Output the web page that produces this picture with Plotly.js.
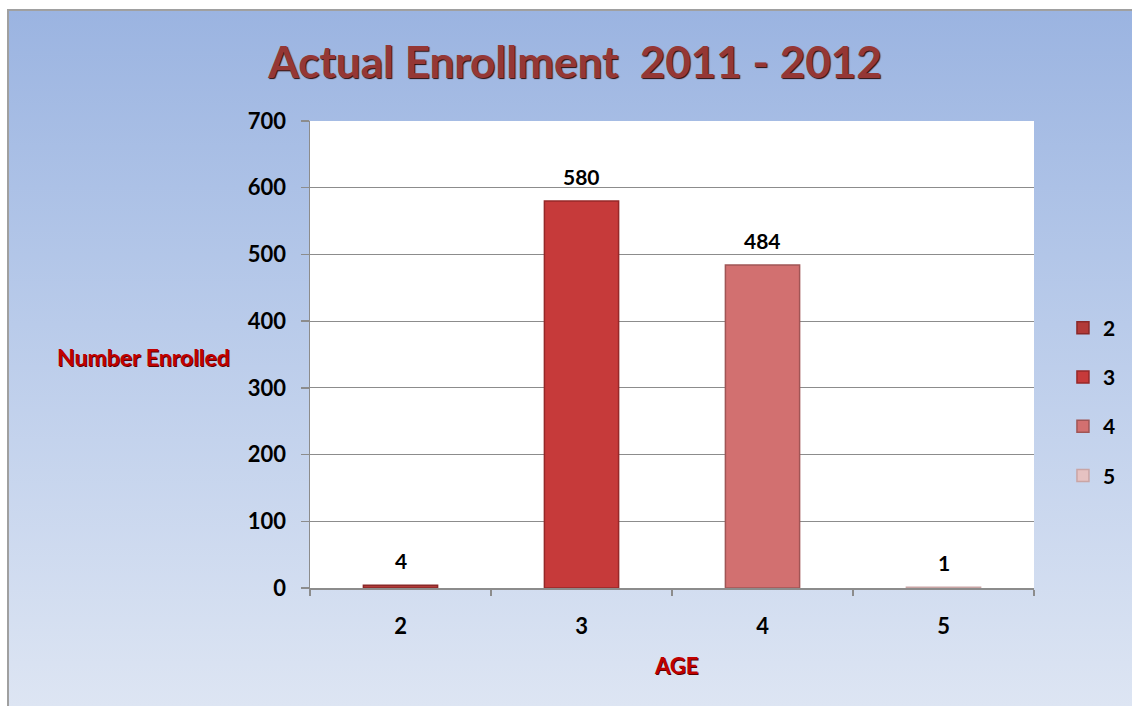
<!DOCTYPE html>
<html>
<head>
<meta charset="utf-8">
<script src="https://cdn.plot.ly/plotly-3.0.1.min.js"></script>
<style>
  html, body { margin:0; padding:0; background:#ffffff; }
  #wrap { position:absolute; left:0; top:0; width:1132px; height:706px; }
  #bg { position:absolute; left:7px; top:9px; width:1125px; height:697px;
        background: linear-gradient(to bottom, #9bb4e1 0%, #b9cbea 45%, #dde5f3 100%);
        border-left:2px solid #a0a0a0; border-top:2px solid #a0a0a0; box-sizing:border-box; }
  #chart { position:absolute; left:0; top:0; width:1132px; height:706px; }
</style>
</head>
<body>
<div id="wrap">
  <div id="bg"></div>
  <div id="chart"></div>
</div>
<script>
const ages = ['2', '3', '4', '5'];
const enrolled = [4, 580, 484, 1];
const barColors = ['#b23a38', '#c63a3a', '#d27070', '#e6c2c2'];
const edgeColors = ['#8a2828', '#962828', '#a05555', '#c9a5a5'];
const yTicks = [0, 100, 200, 300, 400, 500, 600, 700];

const FONT = 'Lato, "Open Sans", sans-serif';

const traces = ages.map((a, i) => ({
  type: 'bar',
  x: [a],
  y: [enrolled[i]],
  name: a,
  legendgroup: a,
  width: 0.41,
  marker: { color: barColors[i], line: { color: edgeColors[i], width: 1.5 } },
  hoverinfo: 'x+y'
}));

// category axis: annotation x is the category index
const valueLabels = ages.map((a, i) => ({
  x: ages.indexOf(a), y: enrolled[i], xref: 'x', yref: 'y',
  text: String(enrolled[i]),
  showarrow: false,
  yanchor: 'bottom',
  yshift: 10,
  font: { family: FONT, size: 21, color: '#000000', weight: 700 }
}));

const layout = {
  width: 1132,
  height: 706,
  margin: { l: 310, r: 98, t: 121, b: 118, autoexpand: false },
  paper_bgcolor: 'rgba(0,0,0,0)',
  plot_bgcolor: '#ffffff',
  barmode: 'overlay',
  showlegend: true,
  title: {
    text: 'Actual Enrollment  2011 - 2012',
    x: 0.508, xanchor: 'center',
    y: 0.912, yanchor: 'middle', yref: 'container',
    font: { family: FONT, size: 44, color: '#953735', weight: 700,
            shadow: '1px 1px 1px #2a0c0c' }
  },
  xaxis: {
    type: 'category',
    categoryorder: 'array',
    categoryarray: ages,
    tickson: 'boundaries',
    ticks: 'outside',
    ticklen: 6,
    tickcolor: '#8c8c8c',
    tickwidth: 1.5,
    showline: true,
    linecolor: '#8c8c8c',
    linewidth: 1.5,
    showgrid: false,
    ticklabelstandoff: 18,
    tickfont: { family: FONT, size: 22, color: '#000000', weight: 700 },
    range: [-0.5, 3.5],
    fixedrange: true
  },
  yaxis: {
    range: [0, 700],
    tickvals: yTicks,
    ticktext: yTicks.map(String),
    ticks: 'outside',
    ticklen: 8,
    tickcolor: '#8c8c8c',
    tickwidth: 1.5,
    showline: true,
    linecolor: '#8c8c8c',
    linewidth: 1.5,
    showgrid: true,
    gridcolor: '#8c8c8c',
    gridwidth: 1.2,
    zeroline: false,
    ticklabelstandoff: 10,
    tickfont: { family: FONT, size: 22, color: '#000000', weight: 700 },
    fixedrange: true
  },
  legend: {
    x: 1.04, xanchor: 'left',
    y: (588 - 402) / 467, yanchor: 'middle',
    traceorder: 'grouped',
    tracegroupgap: 19,
    bgcolor: 'rgba(0,0,0,0)',
    font: { family: FONT, size: 21, color: '#000000', weight: 700 },
    itemwidth: 30
  },
  annotations: valueLabels.concat([
    {
      text: 'Number Enrolled',
      xref: 'paper', yref: 'paper',
      x: -0.108, xanchor: 'right',
      y: (588 - 357) / 467, yanchor: 'middle',
      showarrow: false,
      font: { family: FONT, size: 23, color: '#c00000', weight: 700,
              shadow: '1px 1px 0px #5a0000' }
    },
    {
      text: 'AGE',
      xref: 'paper', yref: 'paper',
      x: (676 - 310) / 724, xanchor: 'center',
      y: -(665 - 588) / 467, yanchor: 'middle',
      showarrow: false,
      font: { family: FONT, size: 22, color: '#c00000', weight: 700,
              shadow: '1px 1px 0px #5a0000' }
    }
  ])
};

Plotly.newPlot('chart', traces, layout, { displayModeBar: false, staticPlot: true });
</script>
</body>
</html>
